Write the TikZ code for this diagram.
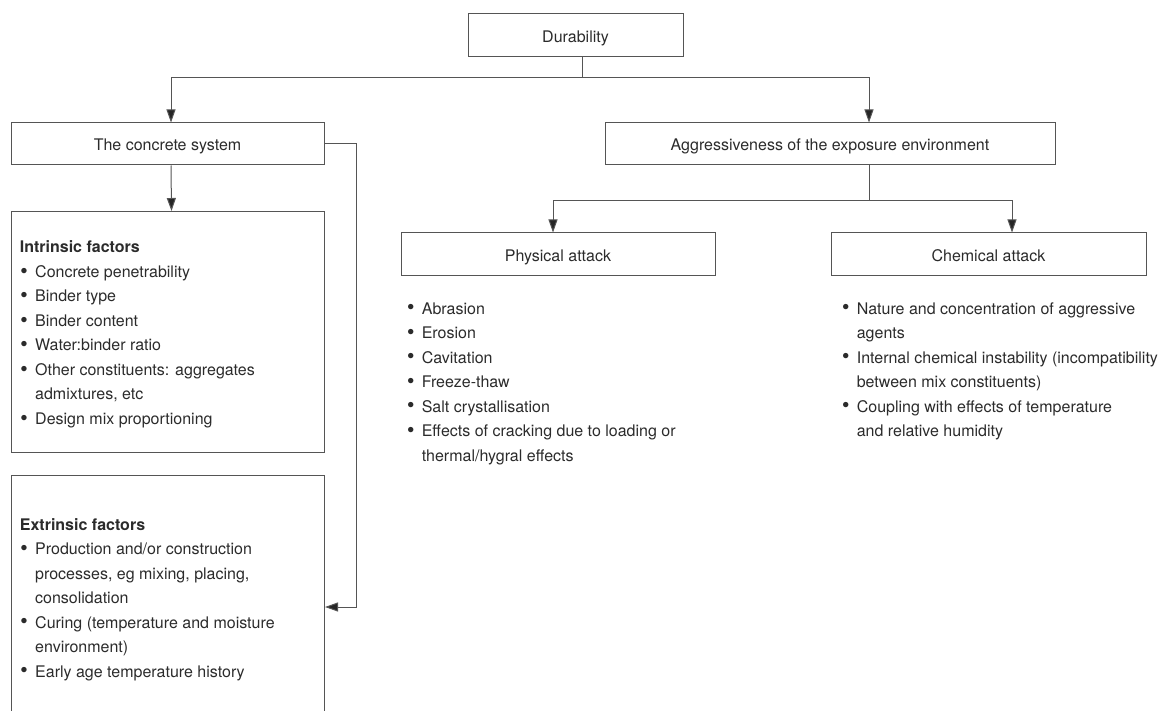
\documentclass[tikz,border=0pt]{standalone}
\usepackage{fontspec}
\setmainfont{TeX Gyre Heros}
\usetikzlibrary{arrows.meta}
\definecolor{linegray}{HTML}{555555}
\definecolor{textgray}{HTML}{2B2B2B}
\newcommand{\bul}{\makebox[15.3pt][l]{\hspace{0.8pt}\raisebox{3.3pt}{\scalebox{0.8}{$\bullet$}}}}

\begin{document}
\begin{tikzpicture}[x=1pt,y=-1pt,
    font=\fontsize{16}{24.5}\selectfont, text=textgray,
    box/.style={draw=linegray, line width=1pt, inner sep=0pt, text height=13.5pt, text depth=0pt, minimum height=42pt},
    frame/.style={draw=linegray, line width=1pt, inner sep=0pt, anchor=north west},
    list/.style={inner sep=0pt, anchor=base west},
    link/.style={draw=linegray, line width=1pt},
    arr/.style={link, -{Triangle[length=13pt,width=9pt,fill=black!85]}}]
  \useasboundingbox (0,0) rectangle (1172,711);
  \clip (0,0) rectangle (1172,711);

  \node[box, minimum width=215pt, minimum height=43pt] (dur) at (575.5,35.5) {Durability};
  \node[box, minimum width=313pt] (conc) at (167.5,144) {The concrete system};
  \node[box, minimum width=450pt] (aggr) at (830,144) {Aggressiveness of the exposure environment};
  \node[box, minimum width=314pt, minimum height=43pt] (phys) at (558,254.5) {Physical attack};
  \node[box, minimum width=315pt, minimum height=43pt] (chem) at (988.5,254.5) {Chemical attack};
  \node[frame, minimum width=313pt, minimum height=241pt] (intr) at (11,211) {};
  \node[frame, minimum width=313pt, minimum height=260pt] (extr) at (11,475) {};

  \node[list] (intrtext) at (19.7,253) {\begin{tabular}[t]{@{}l@{}l@{}}
    \multicolumn{2}{@{}l@{}}{\bfseries Intrinsic factors}\\
    \bul & Concrete penetrability\\
    \bul & Binder type\\
    \bul & Binder content\\
    \bul & Water:binder ratio\\
    \bul & Other constituents: aggregates\\
         & admixtures, etc\\
    \bul & Design mix proportioning
  \end{tabular}};
  \node[list] (extrtext) at (19.7,530) {\begin{tabular}[t]{@{}l@{}l@{}}
    \multicolumn{2}{@{}l@{}}{\bfseries Extrinsic factors}\\
    \bul & Production and/or construction\\
         & processes, eg mixing, placing,\\
         & consolidation\\
    \bul & Curing (temperature and moisture\\
         & environment)\\
    \bul & Early age temperature history
  \end{tabular}};
  \node[list] (phystext) at (406.3,314) {\begin{tabular}[t]{@{}l@{}l@{}}
    \bul & Abrasion\\
    \bul & Erosion\\
    \bul & Cavitation\\
    \bul & Freeze-thaw\\
    \bul & Salt crystallisation\\
    \bul & Effects of cracking due to loading or\\
         & thermal/hygral effects
  \end{tabular}};
  \node[list] (chemtext) at (841.3,314) {\begin{tabular}[t]{@{}l@{}l@{}}
    \bul & Nature and concentration of aggressive\\
         & agents\\
    \bul & Internal chemical instability (incompatibility\\
         & between mix constituents)\\
    \bul & Coupling with effects of temperature\\
         & and relative humidity
  \end{tabular}};

  \coordinate (top) at (582,78);
  \draw[link] (dur.south -| top) -- (top);
  \draw[arr] (top) -| ([xshift=3.5pt]conc.north);
  \draw[arr] (top) -| ([xshift=39pt]aggr.north);
  \draw[arr] ([xshift=3.5pt]conc.south) -- ([xshift=3.5pt]intr.north);
  \coordinate (back) at (356,607);
  \draw[arr] (conc.east) -| (back) -- (back -| extr.east);
  \coordinate (mid) at (869,201);
  \draw[link] (aggr.south -| mid) -- (mid);
  \draw[arr] (mid) -| ([xshift=-5pt]phys.north);
  \draw[arr] (mid) -| ([xshift=23.5pt]chem.north);
\end{tikzpicture}
\end{document}
